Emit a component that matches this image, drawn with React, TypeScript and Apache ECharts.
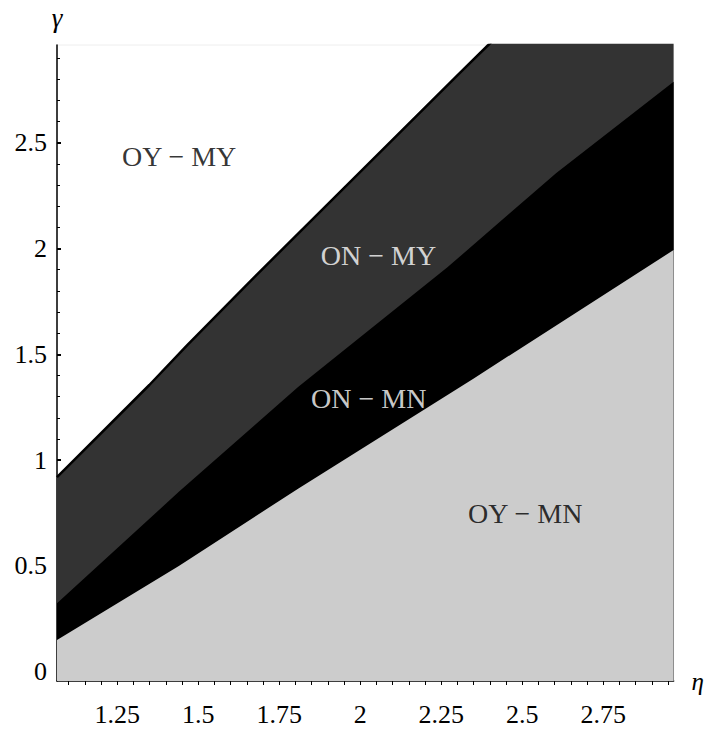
import React, { useEffect, useRef } from "react";
import * as echarts from "echarts";

// Boundary curves: [eta, gamma]
const upperBoundary: number[][] = [
  [1.064, 0.92], [1.349, 1.355], [1.466, 1.544], [1.664, 1.851],
  [2.309, 2.833], [2.395, 2.962], [2.967, 3.83],
];
const middleBoundary: number[][] = [
  [1.064, 0.323], [1.44, 0.85], [1.808, 1.345], [2.268, 1.91], [2.605, 2.357], [2.967, 2.788],
];
const lowerBoundary: number[][] = [
  [1.064, 0.15], [1.44, 0.5], [1.808, 0.865], [2.349, 1.385], [2.967, 1.993],
];

// Region labels: [eta, gamma, text]
const regionLabels: [number, number, string][] = [
  [1.441, 2.434, "OY − MY"],
  [2.056, 1.969, "ON − MY"],
  [2.026, 1.289, "ON − MN"],
  [2.509, 0.749, "OY − MN"],
];
const regionLabelColors = ["#000000", "#ffffff", "#ffffff", "#000000"];

const xMajorTicks = [1.25, 1.5, 1.75, 2, 2.25, 2.5, 2.75];
const xMinorTicks = [
  1.1, 1.15, 1.2, 1.25, 1.3, 1.35, 1.4, 1.45, 1.5, 1.55, 1.6, 1.65, 1.7, 1.75,
  1.8, 1.85, 1.9, 1.95, 2, 2.05, 2.1, 2.15, 2.2, 2.25, 2.3, 2.35, 2.4, 2.45,
  2.5, 2.55, 2.6, 2.65, 2.7, 2.75, 2.8, 2.85, 2.9, 2.95,
];
const yMajorTicks = [0, 0.5, 1, 1.5, 2, 2.5];
const yMinorTicks = [
  0, 0.1, 0.2, 0.3, 0.4, 0.5, 0.6, 0.7, 0.8, 0.9, 1, 1.1, 1.2, 1.3, 1.4, 1.5,
  1.6, 1.7, 1.8, 1.9, 2, 2.1, 2.2, 2.3, 2.4, 2.5, 2.6, 2.7, 2.8, 2.9,
];

const X_MIN = 1.064;
const X_MAX = 2.967;
const Y_MIN = -0.044;
const Y_MAX = 2.962;

const FONT = "Liberation Serif";

export default function App() {
  const ref = useRef<HTMLDivElement>(null);
  useEffect(() => {
    if (!ref.current) return;
    const chart = echarts.init(ref.current, undefined, { renderer: "svg" });
    const fmt = (v: number) => "{t|" + String(v) + "}";
    const tickRich = { t: { fontFamily: FONT, fontSize: 26, color: "#000" } };
    chart.setOption({
      animation: false,
      backgroundColor: "#ffffff",
      textStyle: { fontFamily: FONT },
      grid: {
        left: 57, right: 29, top: 45, bottom: 53,
        show: true, borderColor: "#eeeeee", borderWidth: 1,
        backgroundColor: "transparent",
      },
      xAxis: [
        {
          type: "value", min: X_MIN, max: X_MAX, position: "bottom",
          name: "{n|η}", nameLocation: "end", nameGap: 18,
          nameTextStyle: {
            fontFamily: FONT, align: "left", verticalAlign: "middle",
            rich: { n: { fontFamily: FONT, fontSize: 25, fontStyle: "italic", color: "#000" } },
          },
          axisLine: { show: true, onZero: false, lineStyle: { color: "#000", width: 1.5 } },
          axisTick: { show: true, inside: false, length: 4, customValues: xMinorTicks, lineStyle: { color: "#000", width: 1 } },
          axisLabel: { show: true, margin: 20, customValues: xMajorTicks, formatter: fmt, fontFamily: FONT, fontSize: 26, rich: tickRich },
          splitLine: { show: false },
        },
        {
          type: "value", min: X_MIN, max: X_MAX, position: "bottom", offset: 0,
          axisLine: { show: false },
          axisTick: { show: true, inside: false, length: 5, customValues: xMajorTicks, lineStyle: { color: "#000", width: 2 } },
          axisLabel: { show: false },
          splitLine: { show: false },
        },
      ],
      yAxis: [
        {
          type: "value", min: Y_MIN, max: Y_MAX, position: "left",
          name: "{n|γ}", nameLocation: "end", nameGap: 14,
          nameTextStyle: {
            fontFamily: FONT, align: "center",
            rich: { n: { fontFamily: FONT, fontSize: 27, fontStyle: "italic", color: "#000" } },
          },
          axisLine: { show: true, onZero: false, lineStyle: { color: "#000", width: 1.5 } },
          axisTick: { show: true, inside: true, length: 3, customValues: yMinorTicks, lineStyle: { color: "#000", width: 1 } },
          axisLabel: { show: true, margin: 10, customValues: yMajorTicks, formatter: fmt, fontFamily: FONT, fontSize: 26, rich: tickRich },
          splitLine: { show: false },
        },
        {
          type: "value", min: Y_MIN, max: Y_MAX, position: "left", offset: 0,
          axisLine: { show: false },
          axisTick: { show: true, inside: true, length: 4, customValues: yMajorTicks, lineStyle: { color: "#000", width: 2 } },
          axisLabel: { show: false },
          splitLine: { show: false },
        },
      ],
      series: [
        {
          type: "line", data: upperBoundary, showSymbol: false, clip: true, z: 2,
          lineStyle: { color: "#000", width: 2.5 },
          areaStyle: { color: "#333333", opacity: 1, origin: "start" },
        },
        {
          type: "line", data: middleBoundary, showSymbol: false, clip: true, z: 2,
          lineStyle: { color: "#000", width: 0, opacity: 0 },
          areaStyle: { color: "#000000", opacity: 1, origin: "start" },
        },
        {
          type: "line", data: lowerBoundary, showSymbol: false, clip: true, z: 2,
          lineStyle: { color: "#ccc", width: 0, opacity: 0 },
          areaStyle: { color: "#cccccc", opacity: 1, origin: "start" },
        },
        {
          type: "scatter", z: 5, symbolSize: 2, silent: true,
          data: regionLabels.map((d, i) => ({
            value: [d[0], d[1]],
            label: {
              show: true, position: "inside", formatter: d[2],
              fontFamily: FONT, fontSize: 28, color: regionLabelColors[i],
            },
          })),
          itemStyle: { color: "rgba(0,0,0,0)" },
          labelLayout: { hideOverlap: false },
        },
      ],
    });
    return () => chart.dispose();
  }, []);
  return (
    <div
      ref={ref}
      style={{ position: "fixed", left: 0, top: 0, width: 707, height: 734 }}
    />
  );
}
